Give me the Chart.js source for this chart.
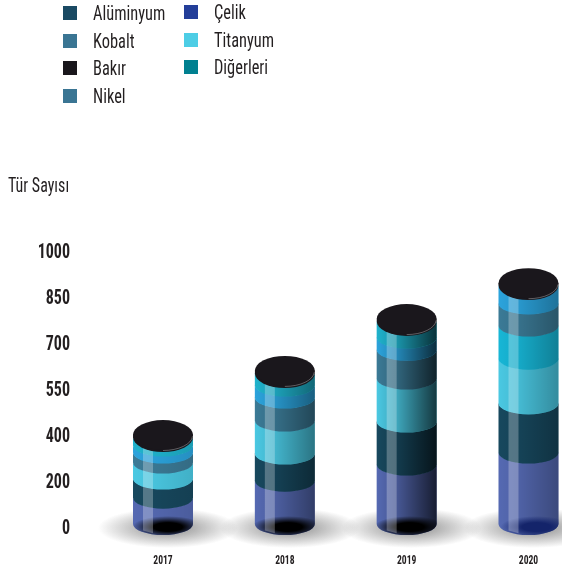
<!DOCTYPE html>
<html lang="tr">
<head>
<meta charset="utf-8">
<title>Tür Sayısı</title>
<script src="https://cdn.jsdelivr.net/npm/chart.js@4"></script>
<style>
  html, body { margin: 0; padding: 0; background: #fff; overflow: hidden; }
  #wrap { position: relative; width: 562px; height: 569px; }
  #chart { position: absolute; left: 0; top: 0; }
  .txt { position: absolute; font-family: "Roboto Condensed", sans-serif; color: #231f20; white-space: nowrap; line-height: 20px; transform: scaleX(0.82); transform-origin: left center; }
  .sw { position: absolute; width: 14px; height: 14px; }
</style>
</head>
<body>
<div id="wrap"><canvas id="chart" width="562" height="569"></canvas></div>
<script>
const years = ["2017", "2018", "2019", "2020"];
const tickLabels = [0, 200, 400, 550, 700, 850, 1000];

// layers, bottom to top (Diğerleri sits lower in the 2020 column)
const celik = [130, 204, 274, 326];
const aluminyum = [83, 118, 172, 179];
const titanyum = [70, 127, 140, 146];
const digerleriAlt = [0, 0, 0, 108];
const kobalt = [43, 75, 94, 72];
const nikel = [31, 39, 40, 58];
const digerleri = [34, 39, 52, 0];
const bakir = [9, 7, 6, 6];

const legendNames = ["Alüminyum", "Kobalt", "Bakır", "Nikel", "Çelik", "Titanyum", "Diğerleri"];
const legendColors = ["#1a4a63", "#3a7593", "#1a171c", "#3a7593", "#233e99", "#4dcde5", "#008090"];
const legendX = [63, 63, 63, 63, 184, 184, 184];
const legendY = [13, 41, 68, 96, 12, 40, 67];

const layerColors = ["#5569b2", "#17485e", "#4ac8e2", "#17b6d6", "#3b7a96", "#2ba3dc", "#1fb2cc", "#1a171c"];
const sideShade = [0.12, 0.42, 0.72, 0.3];
const spotColor = ["0,0,0", "0,0,0", "0,0,0", "20,36,106"];
const spotShift = [5, 3, 3, 8];

const wrap = document.querySelector("#wrap");

function addText(text, x, y, size) {
  const el = document.createElement("div");
  el.className = "txt";
  el.textContent = text;
  el.style.left = x + "px";
  el.style.top = y - 10 + "px";
  el.style.fontSize = size + "px";
  wrap.appendChild(el);
}

legendNames.forEach((name, i) => {
  const sw = document.createElement("div");
  sw.className = "sw";
  sw.style.left = legendX[i] + "px";
  sw.style.top = legendY[i] - 7 + "px";
  sw.style.background = legendColors[i];
  wrap.appendChild(sw);
  addText(name, legendX[i] + 30, legendY[i], 20);
});
addText("Tür Sayısı", 8, 186, 19.5);

// Tick labels in the reference are narrower than any installed face
const LABEL_SQUEEZE = 0.8;
const squeezed = (Base) => class extends Base {
  _computeLabelArea() {
    return undefined; // the default clip box would be squeezed too
  }
  _computeLabelItems(area) {
    const items = super._computeLabelItems(area);
    items.forEach((item) => { item.options.translation[0] /= LABEL_SQUEEZE; });
    return items;
  }
  drawLabels(area) {
    this.ctx.save();
    this.ctx.scale(LABEL_SQUEEZE, 1);
    super.drawLabels(area);
    this.ctx.restore();
  }
};

class YearScale extends squeezed(Chart.CategoryScale) {
  static id = "years";
  static defaults = Chart.CategoryScale.defaults;
}

// The axis labels are evenly spaced but not evenly valued
class StepScale extends squeezed(Chart.LinearScale) {
  static id = "stepped";
  static defaults = Chart.LinearScale.defaults;
  buildTicks() {
    this.start = this.min;
    this.end = this.max;
    return tickLabels.map((value) => ({ value }));
  }
  getPixelForValue(v) {
    let i = 0;
    while (i < tickLabels.length - 2 && v > tickLabels[i + 1]) i++;
    const step = i + (v - tickLabels[i]) / (tickLabels[i + 1] - tickLabels[i]);
    return this.getPixelForDecimal(step / (tickLabels.length - 1));
  }
}
Chart.register(YearScale, StepScale);

const RY = 11;
const CAP_RY = 15;
const BASE_LIFT = 3;

function softEllipse(ctx, x, y, rx, ry, rgb, alpha, core) {
  ctx.save();
  ctx.translate(x, y);
  ctx.scale(rx, ry);
  const g = ctx.createRadialGradient(0, 0, 0, 0, 0, 1);
  g.addColorStop(0, "rgba(" + rgb + ",1)");
  g.addColorStop(core, "rgba(" + rgb + ",1)");
  g.addColorStop(1, "rgba(" + rgb + ",0)");
  ctx.globalAlpha = alpha;
  ctx.fillStyle = g;
  ctx.beginPath();
  ctx.arc(0, 0, 1, 0, Math.PI * 2);
  ctx.fill();
  ctx.restore();
}

// Region between the front arcs of two rings of the cylinder
function ringPath(ctx, x, r, yTop, yBot, ryBot) {
  ctx.beginPath();
  ctx.ellipse(x, yTop, r, RY, 0, Math.PI, 0, true);
  ctx.lineTo(x + r, yBot);
  ctx.ellipse(x, yBot, r, ryBot, 0, 0, Math.PI, false);
  ctx.closePath();
}

const cylinders = {
  id: "cylinders",
  beforeDatasetsDraw(chart) {
    const ctx = chart.ctx;
    chart.getDatasetMeta(0).data.forEach((bar) => {
      softEllipse(ctx, bar.x + 5, bar.base + 1, 70, 20, "120,120,120", 0.62, 0.3);
    });
  },
  beforeDatasetDraw() {
    return false; // the bars are painted as cylinders below
  },
  afterDatasetsDraw(chart) {
    const ctx = chart.ctx;
    const last = chart.data.datasets.length - 1;
    years.forEach((year, yi) => {
      const first = chart.getDatasetMeta(0).data[yi];
      const x = first.x;
      const r = first.width / 2;
      const left = x - r;
      const bottom = first.base - BASE_LIFT;

      for (let di = 0; di < last; di++) {
        const bar = chart.getDatasetMeta(di).data[yi];
        if (chart.data.datasets[di].data[yi] === 0) continue;
        const yBot = di === 0 ? bottom : bar.base + 0.6;
        ringPath(ctx, x, r, bar.y, yBot, RY);
        ctx.fillStyle = layerColors[di];
        ctx.fill();
        const shade = ctx.createLinearGradient(left, 0, left + r * 2, 0);
        shade.addColorStop(0, "rgba(0,0,0,0)");
        shade.addColorStop(0.35, "rgba(0,0,0," + sideShade[yi] * 0.25 + ")");
        shade.addColorStop(1, "rgba(0,0,0," + sideShade[yi] + ")");
        ctx.fillStyle = shade;
        ctx.fill();
      }

      // dark contact spot seen through the base
      ctx.save();
      ringPath(ctx, x, r, first.y, bottom, RY);
      ctx.clip();
      softEllipse(ctx, x + spotShift[yi], first.base, 36, 11, spotColor[yi], 1, 0.4);
      ctx.restore();

      // glass highlight
      const capBar = chart.getDatasetMeta(last).data[yi];
      ctx.beginPath();
      ctx.moveTo(left + 10, capBar.y);
      ctx.lineTo(left + 20, capBar.y);
      ctx.lineTo(left + 20, bottom + RY * 0.85);
      ctx.lineTo(left + 10, bottom + RY * 0.6);
      ctx.closePath();
      ctx.fillStyle = "rgba(255,255,255,0.27)";
      ctx.fill();

      // black cap with a thin edge
      ctx.fillStyle = layerColors[last];
      ctx.beginPath();
      ctx.ellipse(x, capBar.base, r, CAP_RY, 0, 0, Math.PI * 2);
      ctx.fill();
      ctx.beginPath();
      ctx.ellipse(x, capBar.y, r, CAP_RY, 0, 0, Math.PI * 2);
      ctx.fill();
      ctx.strokeStyle = "rgba(255,255,255,0.3)";
      ctx.lineWidth = 1;
      ctx.beginPath();
      ctx.ellipse(x, capBar.y + 0.5, r - 0.5, CAP_RY, 0, 0.05, Math.PI * 0.5);
      ctx.stroke();
    });
  },
};

const series = [
  ["Çelik", celik],
  ["Alüminyum", aluminyum],
  ["Titanyum", titanyum],
  ["Diğerleri", digerleriAlt],
  ["Kobalt", kobalt],
  ["Nikel", nikel],
  ["Diğerleri", digerleri],
  ["Bakır", bakir],
];

new Chart(document.querySelector("#chart"), {
  type: "bar",
  data: {
    labels: years,
    datasets: series.map(([label, data], i) => ({
      label,
      data,
      backgroundColor: layerColors[i],
      barThickness: 60,
    })),
  },
  options: {
    responsive: false,
    animation: false,
    layout: { padding: { top: 251, right: 33.5, bottom: 0, left: 0 } },
    plugins: { legend: { display: false }, tooltip: { enabled: false } },
    scales: {
      x: {
        type: "years",
        stacked: true,
        offset: false,
        grid: { display: false },
        border: { display: false },
        afterFit(scale) {
          scale.height = 42;
          scale.paddingLeft = 0;
          scale.paddingRight = 0;
        },
        ticks: {
          color: "#231f20",
          padding: 19,
          maxRotation: 0,
          autoSkip: false,
          font: { family: "'Roboto Condensed', sans-serif", size: 12, weight: "bold" },
        },
      },
      y: {
        type: "stepped",
        stacked: true,
        min: 0,
        max: 1000,
        grid: { display: false, drawTicks: false },
        border: { display: false },
        afterFit(scale) {
          scale.width = 163;
          scale.paddingTop = 0;
          scale.paddingBottom = 0;
        },
        ticks: {
          color: "#231f20",
          padding: 93,
          labelOffset: 2,
          autoSkip: false,
          callback: (v) => String(v),
          font: { family: "'Roboto Condensed', sans-serif", size: 20, weight: "bold" },
        },
      },
    },
  },
  plugins: [cylinders],
});
</script>
</body>
</html>
